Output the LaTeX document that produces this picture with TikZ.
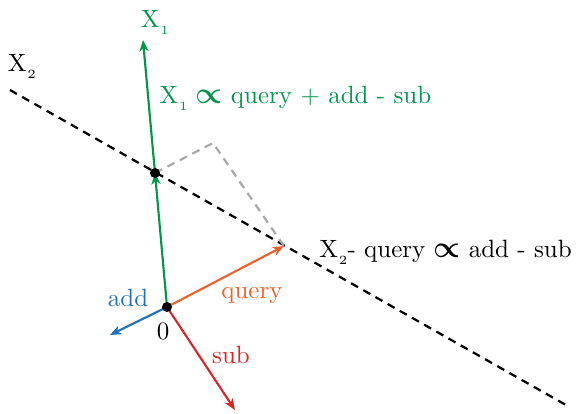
\documentclass[tikz,border=0pt]{standalone}
\usepackage{bm}
\usetikzlibrary{arrows.meta}
\definecolor{cgreen}{RGB}{0,150,75}
\definecolor{corange}{RGB}{236,98,44}
\definecolor{cblue}{RGB}{33,113,181}
\definecolor{cred}{RGB}{214,39,40}
\definecolor{cgray}{RGB}{170,170,170}
\newcommand{\bigprop}{{\large$\bm{\propto}$}}
\newcommand{\Xs}[1]{X\kern0.3pt\raisebox{-2.8pt}{\fontsize{5}{5}\selectfont #1}}
\begin{document}
\begin{tikzpicture}[x=0.4pt,y=-0.4pt,
 vec/.style={line width=0.85pt,-{Stealth[length=4.5pt,width=3.6pt,inset=1.3pt]}},
 dashline/.style={line width=0.9pt,dash pattern=on 3.2pt off 2.4pt},
 lbl/.style={inner sep=0pt},
 dotnode/.style={circle,fill=black,inner sep=0pt,minimum size=4pt}]
\useasboundingbox (0,0) rectangle (582,414);
\coordinate (O) at (167,307);
\coordinate (P) at (155,173);
\coordinate (Ptop) at (143,40);
\coordinate (Q) at (284,246);
\coordinate (A) at (110,335);
\coordinate (S) at (235,410);
\coordinate (C) at (213,143);
\coordinate (L1) at (10,90);
\coordinate (L2) at (566,405);
% lines
\draw[dashline,black] (L1) -- (L2);
\draw[dashline,cgray] (P) -- (C) -- (Q);
\draw[vec,cgreen] (O) -- (P);
\draw[vec,cgreen] (P) -- (Ptop);
\draw[vec,corange] (O) -- (Q);
\draw[vec,cblue] (O) -- (A);
\draw[vec,cred] (O) -- (S);
% dots
\node[dotnode] (o) at (O) {};
\node[dotnode] (p) at (P) {};
% labels
\node[lbl,text=cgreen,anchor=base] (x1) at (155,27) {\Xs{1}};
\node[lbl,anchor=base] (x2) at (22,71) {\Xs{2}};
\node[lbl,text=cgreen,anchor=base west] (eq1) at (159,103) {\Xs{1} \bigprop{} query + add - sub};
\node[lbl,anchor=base west] (eq2) at (319,257) {\Xs{2}- query \bigprop{} add - sub};
\node[lbl,text=cblue] (ladd) at (128,298) {add};
\node[lbl,text=corange] (lq) at (252,295) {query};
\node[lbl,text=cred] (ls) at (231,355) {sub};
\node[lbl] (l0) at (163,331) {0};
\end{tikzpicture}
\end{document}
